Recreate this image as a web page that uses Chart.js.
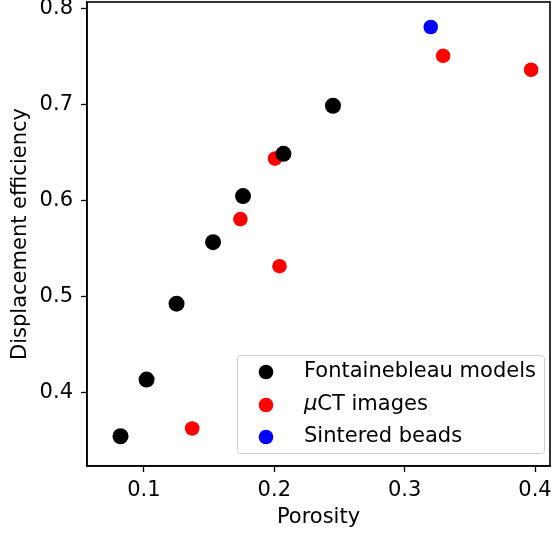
<!DOCTYPE html>
<html>
<head>
<meta charset="utf-8">
<script src="https://cdn.jsdelivr.net/npm/chart.js@4.4.1/dist/chart.umd.min.js"></script>
<style>
  html, body { margin: 0; padding: 0; background: #fff; }
  #wrap { width: 552px; height: 536px; }
</style>
</head>
<body>
<div id="wrap"><canvas id="scatterChart" width="552" height="536"></canvas></div>
<script>
// Datos
const fontainebleauX = [0.082, 0.102, 0.125, 0.153, 0.176, 0.207, 0.245];
const fontainebleauY = [0.355, 0.414, 0.493, 0.557, 0.605, 0.649, 0.699];
const microCtX = [0.137, 0.174, 0.2005, 0.204, 0.3295, 0.397];
const microCtY = [0.363, 0.581, 0.644, 0.532, 0.751, 0.7365];
const beadsX = [0.320];
const beadsY = [0.781];
const xTicks = [0.1, 0.2, 0.3, 0.4];
const yTicks = [0.4, 0.5, 0.6, 0.7, 0.8];

const toPoints = (xs, ys) => xs.map((x, i) => ({ x: x, y: ys[i] }));
const font = { family: 'DejaVu Sans', size: 21 };

// Marco completo (cuatro lados) y leyenda estilo matplotlib
const framePlugin = {
    id: 'frame',
    afterDraw(chart) {
        const { ctx, chartArea: a } = chart;
        ctx.save();
        ctx.strokeStyle = '#000';
        ctx.lineWidth = 1.6;
        ctx.strokeRect(a.left, a.top, a.right - a.left, a.bottom - a.top);

        // leyenda
        const bx = 237, by = 355, bw = 307, bh = 98;
        ctx.fillStyle = 'rgba(255,255,255,0.8)';
        ctx.strokeStyle = '#d0d0d0';
        ctx.lineWidth = 1;
        ctx.beginPath();
        ctx.roundRect(bx + 0.5, by + 0.5, bw, bh, 3);
        ctx.fill();
        ctx.stroke();
        ctx.textBaseline = 'middle';
        ctx.font = '21px "DejaVu Sans"';
        const rows = [372, 405, 437];
        chart.data.datasets.forEach((ds, i) => {
            ctx.fillStyle = ds.backgroundColor;
            ctx.beginPath();
            ctx.arc(266, rows[i], 7.3, 0, Math.PI * 2);
            ctx.fill();
            ctx.fillStyle = '#000';
            if (ds.label.startsWith('μ')) {
                ctx.font = 'italic 21px "DejaVu Sans"';
                ctx.fillText('μ', 304, rows[i]);
                const w = ctx.measureText('μ').width;
                ctx.font = '21px "DejaVu Sans"';
                ctx.fillText(ds.label.slice(1), 304 + w, rows[i]);
            } else {
                ctx.fillText(ds.label, 304, rows[i]);
            }
        });
        ctx.restore();
    }
};

const ctx = document.getElementById('scatterChart').getContext('2d');
const chart = new Chart(ctx, {
    type: 'scatter',
    data: {
        datasets: [
            { label: 'Fontainebleau models', data: toPoints(fontainebleauX, fontainebleauY), backgroundColor: '#000000', borderWidth: 0, pointRadius: 8 },
            { label: 'μCT images', data: toPoints(microCtX, microCtY), backgroundColor: '#ff0000', borderWidth: 0, pointRadius: 7.3 },
            { label: 'Sintered beads', data: toPoints(beadsX, beadsY), backgroundColor: '#0000ff', borderWidth: 0, pointRadius: 7.3 }
        ]
    },
    options: {
        responsive: false,
        animation: false,
        layout: { autoPadding: false, padding: { left: 0, top: 2, right: 2, bottom: 0 } },
        scales: {
            x: {
                type: 'linear',
                min: 0.0563,
                max: 0.4115,
                grid: { drawOnChartArea: false, tickLength: 6, tickColor: '#000', tickWidth: 1.3 },
                border: { color: '#000', width: 1.6 },
                ticks: { color: '#000', font: font, padding: 6, callback: v => v.toFixed(1) },
                afterBuildTicks: s => { s.ticks = xTicks.map(v => ({ value: v })); },
                afterFit: s => { s.height = 70; s.paddingLeft = 0; s.paddingRight = 0; },
                title: { display: true, text: 'Porosity', color: '#000', font: font, padding: { top: 4, bottom: 6 } }
            },
            y: {
                type: 'linear',
                min: 0.324,
                max: 0.807,
                grid: { drawOnChartArea: false, tickLength: 6, tickColor: '#000', tickWidth: 1.3 },
                border: { color: '#000', width: 1.6 },
                ticks: { color: '#000', font: font, padding: 8, callback: v => v.toFixed(1) },
                afterBuildTicks: s => { s.ticks = yTicks.map(v => ({ value: v })); },
                afterFit: s => { s.width = 87; s.paddingTop = 0; s.paddingBottom = 0; },
                title: { display: true, text: 'Displacement efficiency', color: '#000', font: font, padding: { top: 8, bottom: 4 } }
            }
        },
        plugins: {
            legend: { display: false },
            tooltip: { enabled: false }
        }
    },
    plugins: [framePlugin]
});
</script>
</body>
</html>
